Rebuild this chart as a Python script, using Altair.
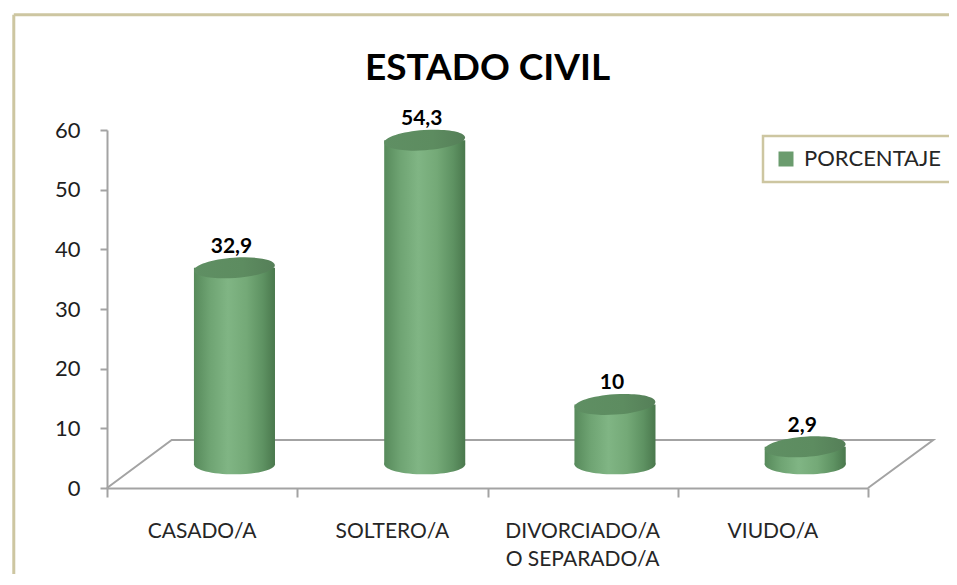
import altair as alt
import pandas as pd

# ---------------- data ----------------
categories = ["CASADO/A", "SOLTERO/A", "DIVORCIADO/A\nO SEPARADO/A", "VIUDO/A"]
values = [32.9, 54.3, 10.0, 2.9]
value_labels = ["32,9", "54,3", "10", "2,9"]
series_name = "PORCENTAJE"
y_ticks = [0, 10, 20, 30, 40, 50, 60]
x_ticks = [0, 1, 2, 3, 4]
title_text = "ESTADO CIVIL"

df = pd.DataFrame({
    "idx": list(range(len(categories))),
    "cat": categories,
    "val": values,
    "lab": value_labels,
    "serie": [series_name] * len(categories),
})

# ---------------- 3-D look (axis units) ----------------
BAR_SHIFT = 0.17     # cylinders sit half-way into the depth
BAR_HALF = 0.213     # half bar width
LIFT = 4.0           # depth lift of the cylinder base
BAR_PX = 81
ELLIPSE = "M -1 0 A 1 0.25 0 1 0 1 0 A 1 0.25 0 1 0 -1 0 Z"

floor_df = pd.DataFrame({"fx": [0, 0.34, 4.343, 4.0], "fy": [0, 8.04, 8.04, 0], "o": [0, 1, 2, 3]})
one = pd.DataFrame({"k": [0]})

xs = alt.Scale(domain=[0, 4], nice=False, zero=False)
ys = alt.Scale(domain=[0, 60], nice=False, zero=False)

GRAY = "#a3a3a3"
FRAME = "#cdc6a1"
FONT = "Lato"

x_axis = alt.Axis(values=x_ticks, labels=False, ticks=True, tickSize=9, tickWidth=2,
                  tickColor=GRAY, domainColor=GRAY, domainWidth=2, grid=False, title=None)
y_axis = alt.Axis(values=y_ticks, format="d", tickSize=7, tickWidth=2, tickColor=GRAY,
                  domainColor=GRAY, domainWidth=2, grid=False, title=None,
                  labelFont=FONT, labelFontSize=22, labelColor="#1e1e1e", labelPadding=20)

body_grad = alt.Gradient(
    gradient="linear",
    stops=[
        alt.GradientStop(color="#578a5b", offset=0),
        alt.GradientStop(color="#6fa473", offset=0.2),
        alt.GradientStop(color="#80b584", offset=0.42),
        alt.GradientStop(color="#74a977", offset=0.65),
        alt.GradientStop(color="#5e9262", offset=0.85),
        alt.GradientStop(color="#4a784d", offset=1),
    ],
    x1=0, x2=1, y1=0, y2=0,
)
top_grad = alt.Gradient(
    gradient="linear",
    stops=[
        alt.GradientStop(color="#5f8f63", offset=0),
        alt.GradientStop(color="#5d8c60", offset=0.6),
        alt.GradientStop(color="#557f58", offset=1),
    ],
    x1=0, x2=1, y1=0, y2=0,
)

base = alt.Chart(df).transform_calculate(
    xc="datum.idx + 0.5",
    xb=f"datum.idx + 0.5 + {BAR_SHIFT}",
    xl=f"datum.idx + 0.5 + {BAR_SHIFT} - {BAR_HALF}",
    xr=f"datum.idx + 0.5 + {BAR_SHIFT} + {BAR_HALF}",
    yb=f"{LIFT}",
    yt=f"datum.val + {LIFT}",
)

# outer frame (top and left edges)
frame_top = alt.Chart(one).mark_rule(color=FRAME, strokeWidth=3).encode(
    x=alt.datum(-0.49, scale=xs, axis=x_axis), x2=alt.datum(4.7),
    y=alt.datum(79.3, scale=ys, axis=y_axis)
)
frame_left = alt.Chart(one).mark_rule(color=FRAME, strokeWidth=3).encode(
    x=alt.datum(-0.49, scale=xs, axis=x_axis),
    y=alt.datum(-25, scale=ys, axis=y_axis), y2=alt.datum(79.3)
)

# floor
floor = alt.Chart(floor_df).mark_line(color=GRAY, strokeWidth=2).encode(
    x=alt.X("fx:Q", scale=xs, axis=x_axis),
    y=alt.Y("fy:Q", scale=ys, axis=y_axis),
    order="o:O",
)

bottom_ell = base.mark_point(shape=ELLIPSE, filled=True, fill=body_grad, opacity=1,
                             size=BAR_PX * BAR_PX, strokeWidth=0).encode(
    x=alt.X("xb:Q", scale=xs, axis=x_axis), y=alt.Y("yb:Q", scale=ys, axis=y_axis)
)
body = base.mark_rect(color=body_grad).encode(
    x=alt.X("xl:Q", scale=xs, axis=x_axis), x2="xr:Q",
    y=alt.Y("yb:Q", scale=ys, axis=y_axis), y2="yt:Q",
)
top_ell = base.mark_point(shape=ELLIPSE, filled=True, fill=top_grad, opacity=1, angle=356,
                          size=BAR_PX * BAR_PX, strokeWidth=0).encode(
    x=alt.X("xb:Q", scale=xs, axis=x_axis), y=alt.Y("yt:Q", scale=ys, axis=y_axis)
)

val_text = base.mark_text(font=FONT, fontSize=21, fontWeight="bold", color="#000000",
                          baseline="alphabetic", dy=-15, dx=-3).encode(
    x=alt.X("xb:Q", scale=xs, axis=x_axis), y=alt.Y("yt:Q", scale=ys, axis=y_axis), text="lab:N"
)

cat_text = base.mark_text(font=FONT, fontSize=21, color="#262626", baseline="top",
                          lineBreak="\n", lineHeight=28, dy=33).encode(
    x=alt.X("xc:Q", scale=xs, axis=x_axis), y=alt.datum(0, scale=ys, axis=y_axis), text="cat:N"
)

legend_layer = alt.Chart(df).transform_filter("false").mark_square(opacity=1, size=225).encode(
    x=alt.X("idx:Q", scale=xs, axis=x_axis),
    y=alt.Y("val:Q", scale=ys, axis=y_axis),
    color=alt.Color("serie:N", scale=alt.Scale(domain=[series_name], range=["#6b9c6e"]),
                    legend=alt.Legend(
                        orient="none", legendX=656, legendY=6, title=None,
                        symbolType="square", symbolSize=225, symbolStrokeWidth=0,
                        labelFont=FONT, labelFontSize=22, labelColor="#262626",
                        labelOffset=7, padding=12, strokeColor=FRAME,
                        fillColor="white")),
)

chart = alt.layer(
    frame_top, frame_left, floor, bottom_ell, body, top_ell, val_text, cat_text, legend_layer
).properties(
    width=761,
    height=358,
    autosize=alt.AutoSizeParams(type="none"),
    padding={"left": 99, "top": 122, "right": 81, "bottom": 86},
    title=alt.TitleParams(title_text, font=FONT, fontSize=37, fontWeight="bold",
                          color="#000000", anchor="middle", frame="group",
                          baseline="alphabetic", offset=-104),
).configure_view(stroke=None).configure_legend(strokeWidth=2.5)

chart.save("out.html", embed_options={"renderer": "svg", "actions": False})
